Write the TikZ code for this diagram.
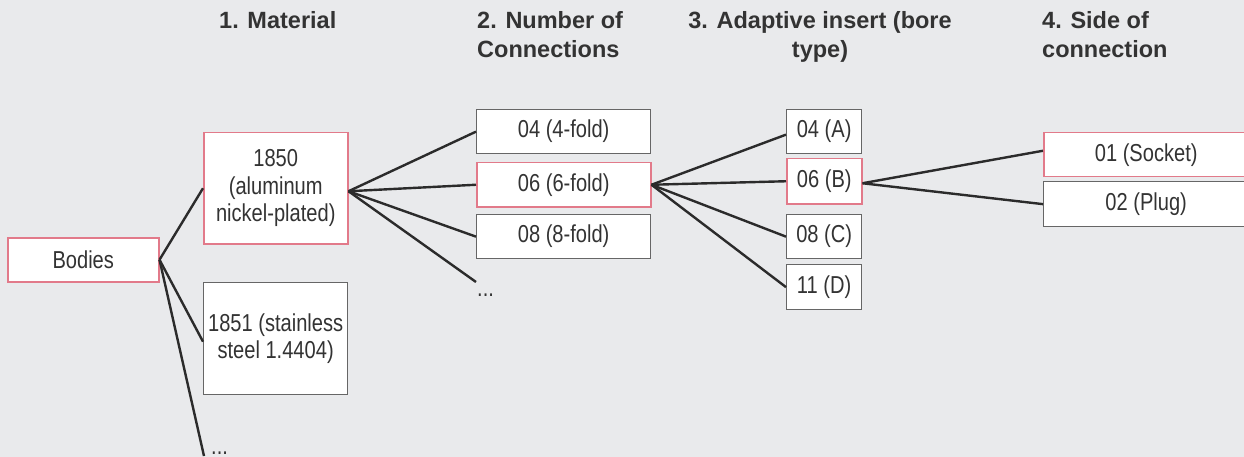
\documentclass[tikz,border=0pt]{standalone}
\usepackage{fontspec}
\setmainfont{Liberation Sans}[FakeStretch=0.82]
\newfontfamily\headfont{Liberation Sans}[BoldFont={Liberation Sans Bold}]
\definecolor{bgc}{HTML}{E9EAEC}
\definecolor{pinkc}{HTML}{E27A8A}
\definecolor{grayc}{HTML}{666666}
\definecolor{txtc}{HTML}{333333}
\definecolor{linec}{HTML}{2B2B2B}
\tikzset{
  box/.style={draw=grayc, line width=1.3pt, fill=white, inner sep=0pt, anchor=north west,
    align=center, text=txtc, font=\fontsize{24.5}{27.5}\selectfont},
  selbox/.style={box, draw=pinkc, line width=1.5pt},
  head/.style={inner sep=0pt, text=txtc, font=\headfont\bfseries\fontsize{23.5}{29.5}\selectfont},
  dotsnode/.style={inner sep=0pt, anchor=base west, text=txtc, font=\fontsize{24.5}{27.5}\selectfont},
  conn/.style={draw=linec, line width=2.4pt},
}
\begin{document}
\begin{tikzpicture}[x=1pt,y=-1pt]
\fill[bgc] (0,0) rectangle (1244,457);
\useasboundingbox (0,0) rectangle (1244,457);
% headers
\node[head, anchor=north west] (h1) at (219,10.8) {1. Material};
\node[head, anchor=north west, align=left] (h2) at (477,10.8) {2. Number of\\Connections};
\node[head, anchor=north, align=center] (h3) at (820,10.8) {3. Adaptive insert (bore\\type)};
\node[head, anchor=north west, align=left] (h4) at (1042,10.8) {4. Side of\\connection};
% boxes
\node[selbox, minimum width=151pt, minimum height=44pt] (bodies) at (7,237) {Bodies};
\node[selbox, minimum width=144pt, minimum height=111pt] (m1850) at (203,132) {1850\\(aluminum\\nickel-plated)};
\node[box, minimum width=144pt, minimum height=112pt] (m1851) at (203,282) {1851 (stainless\\steel 1.4404)};
\node[dotsnode] (dots1) at (211,454) {...};
\coordinate (c1) at (204,456);
\node[box, minimum width=174pt, minimum height=44pt] (n04) at (476,109) {04 (4-fold)};
\node[selbox, minimum width=174pt, minimum height=44pt] (n06) at (476,162) {06 (6-fold)};
\node[box, minimum width=174pt, minimum height=44pt] (n08) at (476,214) {08 (8-fold)};
\node[dotsnode] (dots2) at (477,296) {...};
\coordinate (c2) at (476,282);
\node[box, minimum width=75pt, minimum height=44pt] (a04) at (786,109) {04 (A)};
\node[selbox, minimum width=75pt, minimum height=45pt] (a06) at (786,158) {06 (B)};
\node[box, minimum width=75pt, minimum height=44pt] (a08) at (786,214) {08 (C)};
\node[box, minimum width=75pt, minimum height=45pt] (a11) at (786,264) {11 (D)};
\node[selbox, minimum width=205pt, minimum height=44pt] (s01) at (1043,132) {01 (Socket)};
\node[box, minimum width=205pt, minimum height=45pt] (s02) at (1043,181) {02 (Plug)};
% connectors
\draw[conn] (bodies.east) -- (m1850.west);
\draw[conn] (bodies.east) -- ([yshift=-3pt]m1851.west);
\draw[conn] (bodies.east) -- (c1);
\draw[conn] ([yshift=-3pt]m1850.east) -- (n04.west);
\draw[conn] ([yshift=-3pt]m1850.east) -- (n06.west);
\draw[conn] ([yshift=-3pt]m1850.east) -- (n08.west);
\draw[conn] ([yshift=-3pt]m1850.east) -- (c2);
\draw[conn] (n06.east) -- ([yshift=-3pt]a04.west);
\draw[conn] (n06.east) -- (a06.west);
\draw[conn] (n06.east) -- (a08.west);
\draw[conn] (n06.east) -- (a11.west);
\draw[conn] ([yshift=-2pt]a06.east) -- ([yshift=4pt]s01.west);
\draw[conn] ([yshift=-2pt]a06.east) -- (s02.west);
\end{tikzpicture}
\end{document}
